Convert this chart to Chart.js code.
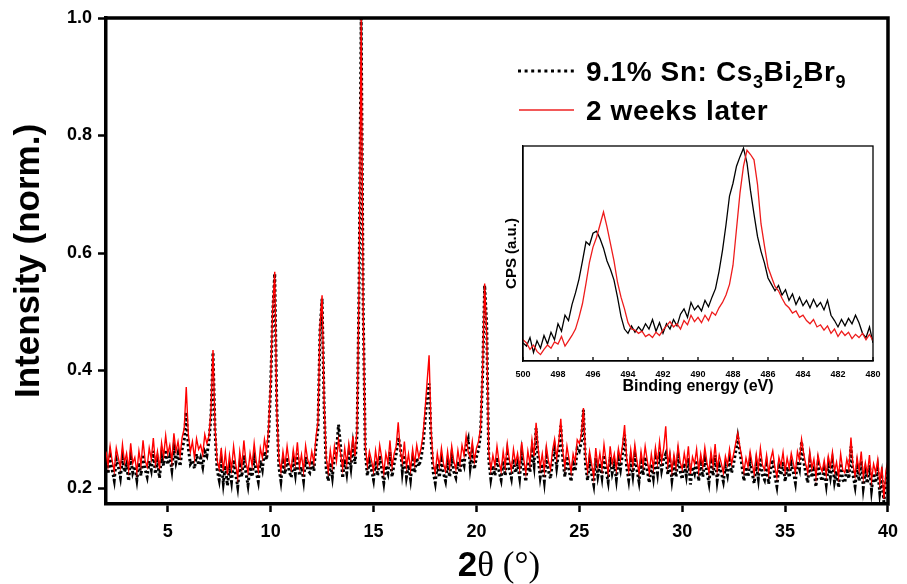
<!DOCTYPE html>
<html>
<head>
<meta charset="utf-8">
<script src="https://cdn.jsdelivr.net/npm/chart.js@4.4.1/dist/chart.umd.min.js"></script>
<style>
  body { margin: 0; background: #fff; }
  #wrap { position: relative; width: 907px; height: 584px; }
  #main { position: absolute; left: 0; top: 0; }
  #inset { position: absolute; left: 490px; top: 140px; }
</style>
</head>
<body>
<div id="wrap">
  <canvas id="main" width="907" height="584"></canvas>
  <canvas id="inset" width="400" height="260"></canvas>
</div>
<script>
// XRD pattern, 2theta in degrees
var twoTheta = [
  2.0,2.1,2.2,2.3,2.4,2.5,2.6,2.7,2.8,2.9,
  3.0,3.1,3.2,3.3,3.4,3.5,3.6,3.7,3.8,3.9,
  4.0,4.1,4.2,4.3,4.4,4.5,4.6,4.7,4.8,4.9,
  5.0,5.1,5.2,5.3,5.4,5.5,5.6,5.7,5.8,5.9,
  6.0,6.1,6.2,6.3,6.4,6.5,6.6,6.7,6.8,6.9,
  7.0,7.1,7.2,7.3,7.4,7.5,7.6,7.7,7.8,7.9,
  8.0,8.1,8.2,8.3,8.4,8.5,8.6,8.7,8.8,8.9,
  9.0,9.1,9.2,9.3,9.4,9.5,9.6,9.7,9.8,9.9,
  10.0,10.1,10.2,10.3,10.4,10.5,10.6,10.7,10.8,10.9,
  11.0,11.1,11.2,11.3,11.4,11.5,11.6,11.7,11.8,11.9,
  12.0,12.1,12.2,12.3,12.4,12.5,12.6,12.7,12.8,12.9,
  13.0,13.1,13.2,13.3,13.4,13.5,13.6,13.7,13.8,13.9,
  14.0,14.1,14.2,14.3,14.4,14.5,14.6,14.7,14.8,14.9,
  15.0,15.1,15.2,15.3,15.4,15.5,15.6,15.7,15.8,15.9,
  16.0,16.1,16.2,16.3,16.4,16.5,16.6,16.7,16.8,16.9,
  17.0,17.1,17.2,17.3,17.4,17.5,17.6,17.7,17.8,17.9,
  18.0,18.1,18.2,18.3,18.4,18.5,18.6,18.7,18.8,18.9,
  19.0,19.1,19.2,19.3,19.4,19.5,19.6,19.7,19.8,19.9,
  20.0,20.1,20.2,20.3,20.4,20.5,20.6,20.7,20.8,20.9,
  21.0,21.1,21.2,21.3,21.4,21.5,21.6,21.7,21.8,21.9,
  22.0,22.1,22.2,22.3,22.4,22.5,22.6,22.7,22.8,22.9,
  23.0,23.1,23.2,23.3,23.4,23.5,23.6,23.7,23.8,23.9,
  24.0,24.1,24.2,24.3,24.4,24.5,24.6,24.7,24.8,24.9,
  25.0,25.1,25.2,25.3,25.4,25.5,25.6,25.7,25.8,25.9,
  26.0,26.1,26.2,26.3,26.4,26.5,26.6,26.7,26.8,26.9,
  27.0,27.1,27.2,27.3,27.4,27.5,27.6,27.7,27.8,27.9,
  28.0,28.1,28.2,28.3,28.4,28.5,28.6,28.7,28.8,28.9,
  29.0,29.1,29.2,29.3,29.4,29.5,29.6,29.7,29.8,29.9,
  30.0,30.1,30.2,30.3,30.4,30.5,30.6,30.7,30.8,30.9,
  31.0,31.1,31.2,31.3,31.4,31.5,31.6,31.7,31.8,31.9,
  32.0,32.1,32.2,32.3,32.4,32.5,32.6,32.7,32.8,32.9,
  33.0,33.1,33.2,33.3,33.4,33.5,33.6,33.7,33.8,33.9,
  34.0,34.1,34.2,34.3,34.4,34.5,34.6,34.7,34.8,34.9,
  35.0,35.1,35.2,35.3,35.4,35.5,35.6,35.7,35.8,35.9,
  36.0,36.1,36.2,36.3,36.4,36.5,36.6,36.7,36.8,36.9,
  37.0,37.1,37.2,37.3,37.4,37.5,37.6,37.7,37.8,37.9,
  38.0,38.1,38.2,38.3,38.4,38.5,38.6,38.7,38.8,38.9,
  39.0,39.1,39.2,39.3,39.4,39.5,39.6,39.7,39.8,39.9,
  40.0
];

// 9.1% Sn: Cs3Bi2Br9 (fresh)
var xrdFresh = [
  .247,.224,.254,.231,.213,.249,.236,.218,.251,.227,
  .240,.212,.251,.226,.237,.214,.243,.221,.257,.232,
  .219,.246,.231,.263,.224,.247,.217,.255,.238,.265,
  .240,.254,.231,.268,.244,.259,.237,.266,.282,.329,
  .268,.241,.247,.233,.258,.239,.251,.236,.262,.255,
  .279,.321,.431,.295,.231,.214,.246,.209,.238,.204,
  .234,.211,.248,.224,.202,.238,.219,.256,.226,.205,
  .236,.219,.251,.227,.211,.247,.232,.262,.248,.289,
  .372,.498,.565,.338,.236,.212,.244,.224,.252,.229,
  .218,.247,.224,.259,.221,.236,.213,.253,.231,.226,
  .247,.229,.271,.301,.468,.522,.339,.233,.212,.243,
  .219,.253,.264,.308,.271,.217,.249,.226,.259,.235,
  .272,.241,.291,.548,.999,.502,.262,.221,.245,.231,
  .214,.246,.221,.255,.232,.209,.238,.226,.262,.219,
  .241,.258,.286,.272,.228,.256,.219,.239,.215,.248,
  .226,.251,.237,.249,.271,.312,.356,.378,.281,.227,
  .209,.241,.218,.247,.225,.212,.243,.219,.254,.228,
  .218,.245,.226,.251,.239,.271,.283,.236,.262,.232,
  .253,.265,.291,.392,.545,.478,.248,.216,.238,.221,
  .252,.228,.214,.246,.221,.258,.232,.217,.249,.226,
  .241,.218,.259,.232,.211,.245,.227,.263,.239,.302,
  .251,.219,.241,.212,.253,.229,.216,.247,.266,.236,
  .262,.306,.248,.219,.254,.232,.211,.241,.229,.268,
  .263,.279,.333,.241,.213,.246,.224,.206,.251,.221,
  .242,.219,.256,.229,.211,.253,.226,.241,.215,.249,
  .232,.259,.291,.236,.214,.247,.222,.256,.231,.211,
  .244,.222,.253,.231,.209,.241,.218,.251,.226,.262,
  .231,.249,.258,.223,.246,.214,.241,.219,.254,.229,
  .215,.242,.221,.251,.206,.236,.225,.247,.212,.241,
  .219,.248,.228,.209,.244,.221,.256,.213,.238,.226,
  .211,.237,.222,.248,.226,.242,.262,.286,.262,.239,
  .212,.236,.219,.246,.225,.208,.241,.216,.252,.222,
  .214,.239,.207,.232,.248,.221,.203,.236,.222,.245,
  .211,.236,.218,.241,.227,.209,.246,.233,.279,.247,
  .226,.209,.246,.218,.231,.202,.241,.221,.212,.232,
  .206,.238,.219,.245,.211,.229,.201,.242,.214,.209,
  .233,.216,.271,.222,.203,.236,.212,.246,.201,.228,
  .208,.239,.197,.225,.209,.232,.192,.219,.176,.212,
  .231
];

// 2 weeks later
var xrdLater = [
  .262,.238,.271,.246,.229,.268,.251,.235,.274,.243,
  .259,.231,.276,.242,.252,.227,.263,.239,.281,.247,
  .236,.268,.249,.285,.241,.262,.232,.277,.254,.289,
  .258,.273,.246,.293,.262,.279,.255,.286,.301,.372,
  .291,.262,.279,.251,.284,.266,.273,.257,.291,.276,
  .288,.332,.435,.302,.247,.233,.268,.229,.261,.223,
  .256,.232,.271,.241,.218,.262,.236,.281,.244,.227,
  .259,.238,.276,.245,.229,.268,.251,.283,.262,.301,
  .381,.505,.568,.332,.251,.229,.262,.238,.271,.244,
  .232,.265,.241,.278,.236,.257,.229,.272,.248,.238,
  .262,.243,.286,.312,.476,.528,.348,.251,.228,.264,
  .237,.271,.246,.282,.259,.233,.268,.241,.276,.252,
  .288,.254,.302,.552,.998,.497,.271,.238,.262,.247,
  .229,.264,.238,.273,.251,.226,.259,.242,.281,.236,
  .258,.271,.312,.263,.244,.279,.236,.258,.231,.266,
  .241,.273,.252,.266,.289,.331,.379,.426,.298,.242,
  .226,.259,.237,.268,.241,.229,.262,.235,.271,.246,
  .232,.264,.241,.273,.256,.289,.262,.251,.279,.246,
  .268,.279,.302,.401,.548,.462,.262,.231,.256,.238,
  .271,.244,.229,.262,.236,.275,.248,.231,.266,.242,
  .259,.233,.278,.249,.226,.263,.241,.282,.254,.311,
  .268,.235,.258,.229,.271,.246,.232,.264,.283,.251,
  .278,.318,.262,.236,.271,.249,.227,.258,.244,.282,
  .276,.291,.336,.256,.229,.262,.241,.218,.268,.237,
  .259,.233,.274,.246,.226,.271,.241,.258,.232,.267,
  .248,.273,.307,.251,.229,.265,.238,.274,.246,.226,
  .262,.238,.271,.247,.226,.258,.234,.269,.243,.279,
  .246,.268,.305,.239,.261,.229,.257,.236,.272,.244,
  .232,.259,.238,.271,.224,.253,.241,.266,.229,.258,
  .237,.269,.244,.226,.262,.238,.275,.231,.256,.242,
  .226,.254,.239,.266,.241,.258,.276,.293,.271,.252,
  .228,.251,.236,.262,.241,.224,.257,.233,.268,.239,
  .231,.256,.224,.249,.263,.236,.219,.252,.238,.261,
  .228,.251,.234,.259,.242,.226,.262,.248,.283,.259,
  .241,.226,.262,.233,.249,.219,.256,.238,.228,.247,
  .222,.254,.236,.261,.228,.244,.219,.258,.231,.226,
  .249,.232,.286,.238,.221,.252,.229,.262,.218,.243,
  .224,.256,.213,.241,.226,.248,.208,.236,.182,.229,
  .248
];

var xTicks = [5, 10, 15, 20, 25, 30, 35, 40];
var yTicks = [0.2, 0.4, 0.6, 0.8, 1.0];

// inset: XPS Bi 4f region
var bindingEnergy = [
  500.0,
  499.8,499.6,499.4,499.2,499.0,498.8,498.6,498.4,498.2,498.0,
  497.8,497.6,497.4,497.2,497.0,496.8,496.6,496.4,496.2,496.0,
  495.8,495.6,495.4,495.2,495.0,494.8,494.6,494.4,494.2,494.0,
  493.8,493.6,493.4,493.2,493.0,492.8,492.6,492.4,492.2,492.0,
  491.8,491.6,491.4,491.2,491.0,490.8,490.6,490.4,490.2,490.0,
  489.8,489.6,489.4,489.2,489.0,488.8,488.6,488.4,488.2,488.0,
  487.8,487.6,487.4,487.2,487.0,486.8,486.6,486.4,486.2,486.0,
  485.8,485.6,485.4,485.2,485.0,484.8,484.6,484.4,484.2,484.0,
  483.8,483.6,483.4,483.2,483.0,482.8,482.6,482.4,482.2,482.0,
  481.8,481.6,481.4,481.2,481.0,480.8,480.6,480.4,480.2,480.0
];
var cpsFresh = [
  .085,
  .070,.110,.040,.095,.060,.120,.080,.135,.100,.175,
  .140,.215,.190,.265,.320,.385,.470,.560,.545,.600,
  .610,.575,.530,.470,.430,.380,.300,.210,.150,.130,
  .165,.135,.160,.140,.175,.150,.195,.140,.180,.130,
  .175,.150,.195,.165,.220,.245,.205,.275,.240,.260,
  .235,.285,.255,.300,.340,.420,.520,.640,.775,.835,
  .915,.960,1.00,.930,.800,.690,.585,.515,.460,.390,
  .360,.330,.355,.310,.335,.285,.315,.265,.300,.260,
  .285,.250,.290,.255,.275,.240,.285,.215,.190,.160,
  .195,.165,.200,.175,.215,.180,.130,.110,.160,.085
];
var cpsLater = [
  .100,
  .085,.055,.075,.045,.030,.055,.075,.060,.090,.080,
  .115,.070,.095,.120,.150,.205,.270,.365,.465,.535,
  .580,.640,.700,.630,.550,.470,.370,.300,.245,.180,
  .150,.145,.130,.140,.115,.125,.110,.135,.120,.145,
  .165,.185,.160,.175,.150,.190,.170,.215,.185,.205,
  .180,.215,.190,.230,.215,.250,.275,.310,.360,.450,
  .620,.790,.915,.990,.970,.945,.830,.645,.540,.440,
  .395,.350,.330,.295,.265,.250,.225,.235,.205,.215,
  .190,.175,.195,.160,.170,.145,.165,.130,.150,.115,
  .140,.120,.135,.105,.125,.110,.130,.100,.125,.095
];
var bindingTicks = [500, 498, 496, 494, 492, 490, 488, 486, 484, 482, 480];

var SANS = "'Liberation Sans', Arial, sans-serif";
var SERIF = "'Liberation Serif', 'Times New Roman', serif";
Chart.defaults.font.family = SANS;
Chart.defaults.color = '#000';

function pairs(xs, ys) {
    return xs.map(function (x, i) { return { x: x, y: ys[i] }; });
}

// top/right frame, x title and legend with subscripts
var mainDecor = {
    id: 'mainDecor',
    afterDraw: function (chart) {
        var ctx = chart.ctx, a = chart.chartArea;
        ctx.save();
        ctx.strokeStyle = '#000';
        ctx.lineWidth = 3.5;
        ctx.beginPath();
        ctx.moveTo(a.left - 1.7, a.top);
        ctx.lineTo(a.right, a.top);
        ctx.lineTo(a.right, a.bottom + 1.7);
        ctx.stroke();

        // 2θ (°)
        ctx.fillStyle = '#000';
        ctx.textBaseline = 'alphabetic';
        ctx.font = 'bold 35px ' + SANS;
        var w1 = ctx.measureText('2').width;
        ctx.font = '35px ' + SERIF;
        var w2 = ctx.measureText('\u03b8 (\u00b0)').width;
        var x0 = 499 - (w1 + w2) / 2;
        ctx.font = 'bold 35px ' + SANS;
        ctx.fillText('2', x0, 576);
        ctx.font = '35px ' + SERIF;
        ctx.fillText('\u03b8 (\u00b0)', x0 + w1, 576);

        // legend
        ctx.lineWidth = 3;
        ctx.setLineDash([3, 3.6]);
        ctx.beginPath();
        ctx.moveTo(518, 71);
        ctx.lineTo(575, 71);
        ctx.stroke();
        ctx.setLineDash([]);
        ctx.strokeStyle = '#ee2222';
        ctx.lineWidth = 1.6;
        ctx.beginPath();
        ctx.moveTo(519, 110);
        ctx.lineTo(574, 110);
        ctx.stroke();

        var parts = [['9.1% Sn: Cs', 0], ['3', 1], ['Bi', 0], ['2', 1], ['Br', 0], ['9', 1]];
        var x = 586;
        ctx.letterSpacing = '0.6px';
        parts.forEach(function (p) {
            ctx.font = p[1] ? 'bold 18px ' + SANS : 'bold 28px ' + SANS;
            ctx.fillText(p[0], x, p[1] ? 88 : 81);
            x += ctx.measureText(p[0]).width;
        });
        ctx.font = 'bold 28px ' + SANS;
        ctx.fillText('2 weeks later', 586, 120);
        ctx.restore();
    }
};

new Chart(document.getElementById('main'), {
    type: 'line',
    data: {
        datasets: [{
            label: '2 weeks later',
            data: pairs(twoTheta, xrdLater),
            borderColor: '#ff0000',
            borderWidth: 1.4,
            order: 0
        }, {
            label: '9.1% Sn: Cs3Bi2Br9',
            data: pairs(twoTheta, xrdFresh),
            borderColor: '#000',
            borderWidth: 3,
            borderDash: [2.5, 2.5],
            order: 1
        }]
    },
    options: {
        responsive: false,
        animation: false,
        layout: { padding: { left: 0, right: 14, top: 18, bottom: 0 } },
        elements: { point: { radius: 0 }, line: { tension: 0 } },
        plugins: { legend: { display: false }, tooltip: { enabled: false } },
        scales: {
            x: {
                type: 'linear',
                min: 2,
                max: 40,
                afterFit: function (s) { s.height = 80; },
                afterBuildTicks: function (s) { s.ticks = xTicks.map(function (v) { return { value: v }; }); },
                border: { display: true, color: '#000', width: 3.5 },
                grid: { drawOnChartArea: false, drawTicks: true, tickLength: 8, tickWidth: 2.5, tickColor: '#000' },
                ticks: { font: { size: 18, weight: 'bold' }, color: '#000', padding: 9, maxRotation: 0, autoSkip: false }
            },
            y: {
                type: 'linear',
                min: 0.1728,
                max: 1.0,
                afterFit: function (s) { s.width = 106; },
                afterBuildTicks: function (s) { s.ticks = yTicks.map(function (v) { return { value: v }; }); },
                border: { display: true, color: '#000', width: 3.5 },
                grid: { drawOnChartArea: false, drawTicks: true, tickLength: 8, tickWidth: 2.5, tickColor: '#000' },
                ticks: {
                    font: { size: 18, weight: 'bold' }, color: '#000', padding: 6,
                    callback: function (v) { return v.toFixed(1); }
                },
                title: {
                    display: true, text: 'Intensity (norm.)', color: '#000',
                    font: { size: 35, weight: 'bold' }, padding: { top: 8, bottom: 0 }
                }
            }
        }
    },
    plugins: [mainDecor]
});

// thin frame and inward ticks for the inset
var insetFrame = {
    id: 'insetFrame',
    afterDraw: function (chart) {
        var ctx = chart.ctx, a = chart.chartArea, sx = chart.scales.x;
        ctx.save();
        ctx.strokeStyle = '#000';
        ctx.lineWidth = 1.3;
        ctx.strokeRect(a.left, a.top, a.right - a.left, a.bottom - a.top);
        ctx.beginPath();
        bindingTicks.forEach(function (v) {
            var px = sx.getPixelForValue(v);
            ctx.moveTo(px, a.bottom);
            ctx.lineTo(px, a.bottom - 4);
        });
        ctx.stroke();
        ctx.restore();
    }
};

new Chart(document.getElementById('inset'), {
    type: 'line',
    data: {
        datasets: [{
            data: pairs(bindingEnergy, cpsLater),
            borderColor: '#ee1c1c',
            borderWidth: 1.3,
            order: 0
        }, {
            data: pairs(bindingEnergy, cpsFresh),
            borderColor: '#000',
            borderWidth: 1.3,
            order: 1
        }]
    },
    options: {
        responsive: false,
        animation: false,
        layout: { padding: { left: 0, right: 17, top: 6, bottom: 0 } },
        elements: { point: { radius: 0 }, line: { tension: 0 } },
        plugins: { legend: { display: false }, tooltip: { enabled: false } },
        scales: {
            x: {
                type: 'linear',
                min: 480,
                max: 500,
                reverse: true,
                afterFit: function (s) { s.height = 39; },
                afterBuildTicks: function (s) { s.ticks = bindingTicks.map(function (v) { return { value: v }; }); },
                border: { display: true, color: '#000', width: 1.3 },
                grid: { drawOnChartArea: false, drawTicks: false },
                ticks: { font: { size: 9, weight: 'bold' }, color: '#000', padding: 8, maxRotation: 0, autoSkip: false },
                title: {
                    display: true, text: 'Binding energy (eV)', color: '#000',
                    font: { size: 16, weight: 'bold' }, padding: { top: 0, bottom: 4 }
                }
            },
            y: {
                type: 'linear',
                min: 0,
                max: 1.01,
                afterFit: function (s) { s.width = 33; },
                border: { display: true, color: '#000', width: 1.3 },
                grid: { drawOnChartArea: false, drawTicks: false },
                ticks: { display: false },
                title: {
                    display: true, text: 'CPS (a.u.)', color: '#000',
                    font: { size: 15, weight: 'bold' }, padding: { top: 13, bottom: 0 }
                }
            }
        }
    },
    plugins: [insetFrame]
});
</script>
</body>
</html>
